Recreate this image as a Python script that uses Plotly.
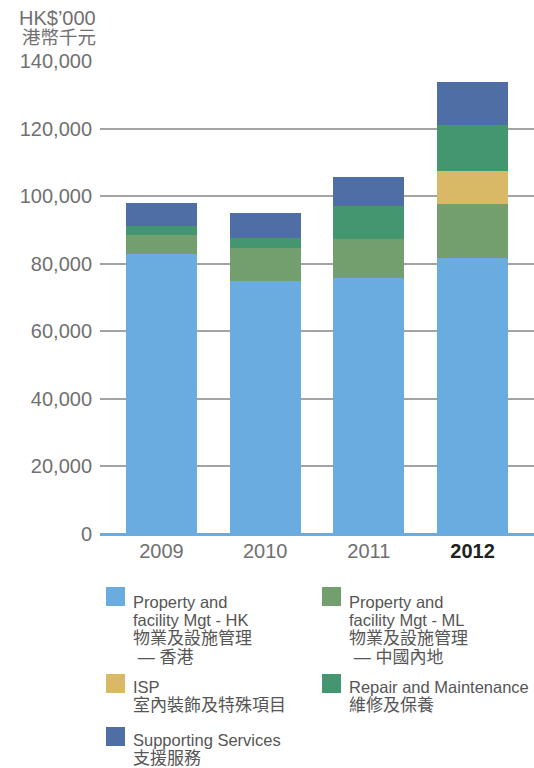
import plotly.graph_objects as go

years = ["2009", "2010", "2011", "2012"]
year_labels = ["2009", "2010", "2011", "<b><span style='color:#222222'>2012</span></b>"]

hk = [82900, 74900, 75800, 81700]
ml = [5600, 9800, 11500, 16000]
isp = [0, 0, 0, 9800]
repair = [2700, 2950, 9800, 13600]
support = [6800, 7400, 8550, 12750]

series_values = [hk, ml, isp, repair, support]
series_names = ["Property and facility Mgt - HK", "Property and facility Mgt - ML",
                "ISP", "Repair and Maintenance", "Supporting Services"]
legend_lines = [
    ["Property and", "facility Mgt - HK", "物業及設施管理", "\u00a0— 香港"],
    ["Property and", "facility Mgt - ML", "物業及設施管理", "\u00a0— 中國內地"],
    ["ISP", "室內裝飾及特殊項目"],
    ["Repair and Maintenance", "維修及保養"],
    ["Supporting Services", "支援服務"],
]
colors = ["#6aace0", "#739e6e", "#d9b866", "#449671", "#4f6ea6"]

y_ticks = [0, 20000, 40000, 60000, 80000, 100000, 120000, 140000]

FONT = "Liberation Sans, Arial, Noto Sans CJK TC, sans-serif"

fig = go.Figure()
for name, vals, col in zip(series_names, series_values, colors):
    fig.add_trace(go.Bar(x=years, y=vals, name=name, marker=dict(color=col, line=dict(width=0)),
                         showlegend=False))

W, H = 534, 768
ml_, mr, mt, mb = 100, 0, 61, 234

fig.update_layout(
    width=W, height=H,
    margin=dict(l=ml_, r=mr, t=mt, b=mb),
    barmode="stack", bargap=0.315,
    paper_bgcolor="white", plot_bgcolor="white",
    font=dict(family=FONT, color="#707070"),
    xaxis=dict(type="category", range=[-0.593, 3.593], tickvals=years, ticktext=year_labels,
               showgrid=False, zeroline=False, showline=False, ticks="",
               tickfont=dict(size=20, color="#707070"), ticklabelstandoff=3),
    yaxis=dict(range=[0, 140000], tickvals=y_ticks, tickformat=",d",
               showgrid=True, gridcolor="#a3a3a3", gridwidth=1.5,
               zeroline=True, zerolinecolor=colors[0], zerolinewidth=3,
               showline=False, ticks="", tickfont=dict(size=20, color="#707070"),
               ticklabelstandoff=7),
)


def px_x(x):
    return (x - ml_) / (W - ml_ - mr)


def px_y(y):
    return (H - mb - y) / (H - mt - mb)


# axis unit label
fig.add_annotation(xref="paper", yref="paper", x=px_x(98), y=px_y(17), xanchor="right", yanchor="middle",
                   text="HK$’000", showarrow=False, height=19, valign="middle",
                   font=dict(size=20, color="#707070"))
fig.add_annotation(xref="paper", yref="paper", x=px_x(98), y=px_y(37.5), xanchor="right", yanchor="middle",
                   text="港幣千元", showarrow=False, height=19, valign="middle",
                   font=dict(size=18.5, color="#707070"))

# custom legend below chart
legend_pos = [(106, 587), (322, 587), (106, 674), (322, 674), (106, 727)]
first_line_offset = [14.5, 14.5, 13, 13, 13]
LINE_H = 18.6
for (lx, ly), lines, col, off in zip(legend_pos, legend_lines, colors, first_line_offset):
    fig.add_shape(type="rect", xref="paper", yref="paper",
                  x0=px_x(lx), x1=px_x(lx + 19), y0=px_y(ly), y1=px_y(ly + 19),
                  fillcolor=col, line=dict(width=0))
    for i, line in enumerate(lines):
        is_cjk = any(ord(c) > 0x2000 and c != "—" for c in line)
        fig.add_annotation(xref="paper", yref="paper", x=px_x(lx + 25), y=px_y(ly + off + i * LINE_H),
                           xanchor="left", yanchor="middle", align="left", showarrow=False,
                           text=line, font=dict(size=17 if is_cjk else 16.5, color="#555555"))

fig.write_html("out.html")
